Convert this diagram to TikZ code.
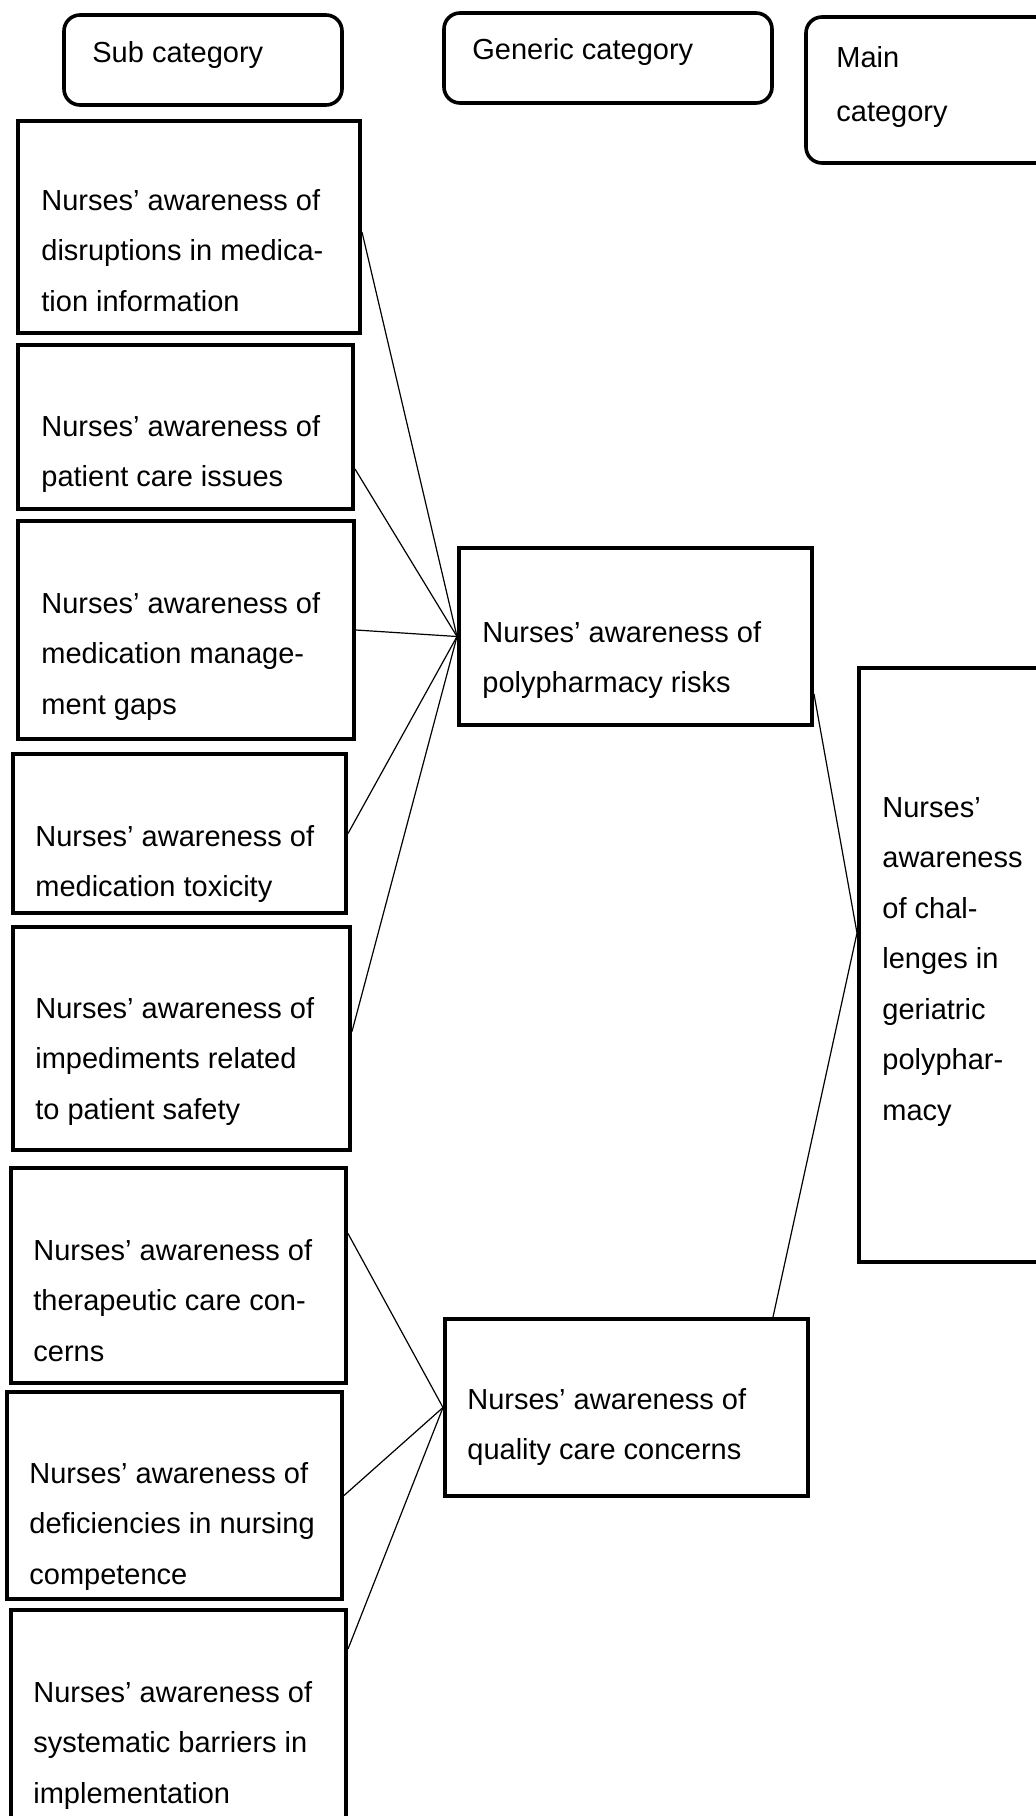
\documentclass[tikz,border=0pt]{standalone}
\usepackage{fontspec}
\setmainfont{Liberation Sans}
\usetikzlibrary{calc}

\begin{document}
\begin{tikzpicture}[%
	x=0.5pt, y=-0.5pt,%
	box/.style ={draw, line width=2pt, inner sep=0pt},%
	head/.style ={box, line width=1.8pt, rounded corners=8pt},%
	txt/.style ={anchor=base west, inner sep=0pt, align=left, font=\fontsize{14.5}{25.25}\selectfont},%
	link/.style ={line width=0.6pt},%
	]
\useasboundingbox (0,0) rectangle (1036,1816);
%%% headers
	\node [head, minimum width=139pt, minimum height=45pt] (hs) at (203,60) {};
	\node [head, minimum width=164pt, minimum height=45pt] (hg) at (608,58) {};
	\node [head, minimum width=137pt, minimum height=73pt] (hm) at (943,90) {};
	\node [txt] (ths) at (92,62) {Sub category};
	\node [txt] (thg) at (472,59) {Generic category};
	\node [txt, font=\fontsize{14.5}{27}\selectfont] (thm) at (836,121) {Main\\category};
%%% headers
%%% boxes
	\foreach \n/\x/\y/\w/\h in {b1/189/227/171/106, b2/185.5/427/167.5/82,
		b3/186/630/168/109, b4/179.5/833.5/166.5/79.5, b5/181.5/1038.5/168.5/111.5,
		b6/178.5/1275.5/167.5/107.5, b7/174.5/1495.5/167.5/103.5, b8/178.5/1720/167.5/110,
		g1/635.5/636.5/176.5/88.5, g2/626.5/1407.5/181.5/88.5, m/969.5/965/110.5/297}
		{\node [box, minimum width=\w pt, minimum height=\h pt] (\n) at (\x,\y) {};}
%%% boxes
%%% texts (base = last line)
	\node [txt] (t1) at (41,311) {Nurses’ awareness of\\disruptions in medica-\\tion information};
	\node [txt] (t2) at (41,486.5) {Nurses’ awareness of\\patient care issues};
	\node [txt] (t3) at (41,714) {Nurses’ awareness of\\medication manage-\\ment gaps};
	\node [txt] (t4) at (35,896.5) {Nurses’ awareness of\\medication toxicity};
	\node [txt] (t5) at (35,1119) {Nurses’ awareness of\\impediments related\\to patient safety};
	\node [txt] (t6) at (33,1361) {Nurses’ awareness of\\therapeutic care con-\\cerns};
	\node [txt] (t7) at (29,1584) {Nurses’ awareness of\\deficiencies in nursing\\competence};
	\node [txt] (t8) at (33,1803) {Nurses’ awareness of\\systematic barriers in\\implementation};
	\node [txt] (tg1) at (482,692.5) {Nurses’ awareness of\\polypharmacy risks};
	\node [txt] (tg2) at (467,1459.5) {Nurses’ awareness of\\quality care concerns};
	\node [txt] (tm) at (882,1120) {Nurses’\\awareness\\of chal-\\lenges in\\geriatric\\polyphar-\\macy};
%%% texts
%%% links
	\foreach \b/\dy in {b1/5, b2/42, b3/0, b4/0, b5/-7}
		{\draw [link] ($(\b.east)+(0,\dy)$) -- (g1.west);}
	\foreach \b/\dy in {b6/-42, b7/0, b8/-71}
		{\draw [link] ($(\b.east)+(0,\dy)$) -- (g2.west);}
	\coordinate (mj) at ($(m.west)+(0,-32)$);
	\draw [link] ($(g1.east)+(0,57.5)$) -- (mj);
	\draw [link] ($(g2.north east)+(-37,0)$) -- (mj);
%%% links
\end{tikzpicture}
\end{document}
